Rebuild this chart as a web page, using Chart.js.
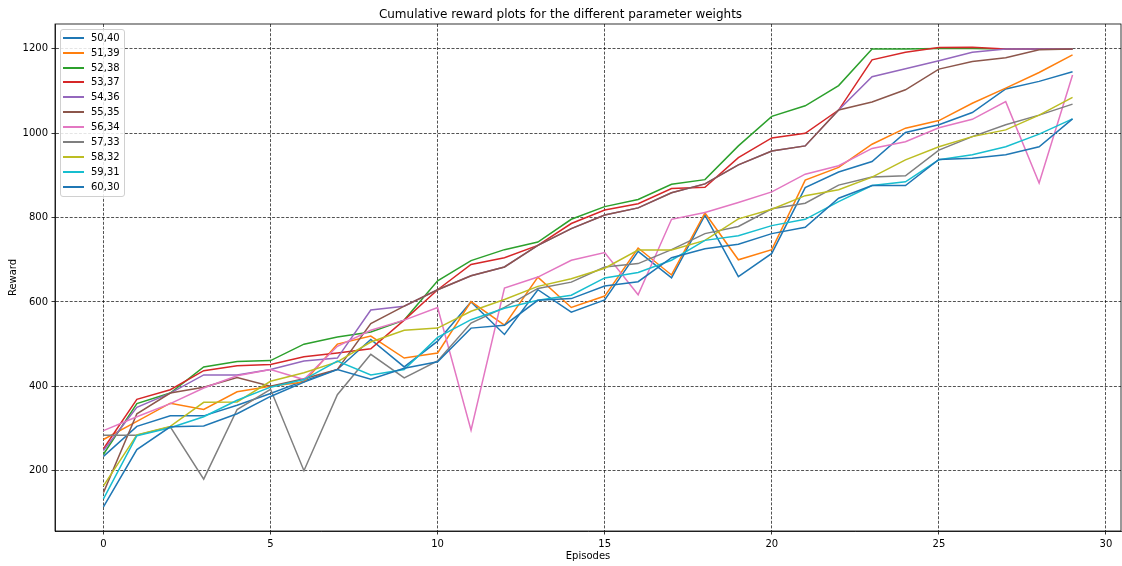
<!DOCTYPE html>
<html>
<head>
<meta charset="utf-8">
<script src="https://cdn.jsdelivr.net/npm/chart.js@4/dist/chart.umd.min.js"></script>
<style>
  html, body { margin: 0; padding: 0; background: #fff; }
  #wrap { position: relative; width: 1122px; height: 566px; }
  #legend {
    position: absolute; left: 60px; top: 29px; width: 63px; height: 166px;
    border: 1px solid #d0d0d0; border-radius: 3px; background: rgba(255,255,255,0.85);
    font-family: "DejaVu Sans", sans-serif; font-size: 10px; color: #000;
  }
  #legend .row { position: absolute; left: 0; height: 14px; width: 100%; }
  #legend .swatch { position: absolute; left: 2px; top: 6px; width: 21px; height: 2px; }
  #legend .lbl { position: absolute; left: 30px; top: 0; line-height: 14px; white-space: nowrap; }
</style>
</head>
<body>
<div id="wrap">
  <canvas id="c" width="1122" height="566"></canvas>
  <div id="legend"></div>
</div>
<script>
// Episode index along the x axis
const episodes = [0,1,2,3,4,5,6,7,8,9,10,11,12,13,14,15,16,17,18,19,20,21,22,23,24,25,26,27,28,29];

// Cumulative reward per episode for each parameter-weight pair
const w50_40 = [234,305,330,330,355,383,413,440,511,446,507,600,523,629,576,605,720,657,806,660,715,871,908,933,1002,1020,1049,1105,1123,1146];
const w51_39 = [274,317,360,345,387,400,410,500,519,467,479,601,545,659,587,614,728,664,811,700,724,889,919,974,1012,1030,1071,1107,1144,1186];
const w52_38 = [239,359,384,446,459,461,500,517,529,557,650,698,724,742,796,826,843,879,890,970,1040,1065,1113,1200,1200,1201,1201,1200,1200,1200];
const w53_37 = [252,369,392,437,449,452,470,479,489,557,629,689,705,734,786,818,833,869,872,942,989,1000,1055,1174,1192,1203,1204,1200,1200,1200];
const w54_36 = [248,350,384,427,427,440,460,467,581,590,629,662,683,734,774,806,823,859,880,925,958,970,1055,1134,1153,1172,1192,1200,1200,1200];
const w55_35 = [148,335,384,398,421,400,418,440,549,590,629,662,683,734,774,806,823,859,880,925,958,970,1055,1074,1103,1152,1170,1179,1198,1200];
const w56_34 = [295,328,359,396,425,440,416,495,533,557,587,296,633,659,699,717,617,796,812,836,861,903,923,964,980,1013,1033,1075,882,1138];
const w57_33 = [284,284,304,180,345,393,200,380,476,420,460,550,587,632,647,683,691,724,762,779,821,834,877,896,899,960,992,1020,1043,1069];
const w58_32 = [164,285,305,362,363,412,432,458,505,533,538,578,606,637,655,680,723,723,746,797,820,852,866,896,937,968,992,1008,1043,1085];
const w59_31 = [133,283,302,328,367,398,416,460,427,440,516,558,585,604,616,657,670,699,746,757,781,796,838,876,885,937,949,968,998,1034];
const w60_30 = [114,250,304,306,335,376,410,440,417,443,458,538,545,604,608,638,648,705,726,737,762,777,846,876,876,938,941,949,968,1034];

const seriesLabels = ["50,40","51,39","52,38","53,37","54,36","55,35","56,34","57,33","58,32","59,31","60,30"];
const seriesValues = [w50_40,w51_39,w52_38,w53_37,w54_36,w55_35,w56_34,w57_33,w58_32,w59_31,w60_30];
const seriesColors = ["#1f77b4","#ff7f0e","#2ca02c","#d62728","#9467bd","#8c564b","#e377c2","#7f7f7f","#bcbd22","#17becf","#1f77b4"];

const xTicks = [0,5,10,15,20,25,30];
const yTicks = [200,400,600,800,1000,1200];

const FONT = "'DejaVu Sans', sans-serif";

const datasets = seriesValues.map((vals, i) => ({
  label: seriesLabels[i],
  data: vals.map((v, k) => ({ x: episodes[k], y: v })),
  borderColor: seriesColors[i],
  backgroundColor: seriesColors[i],
  borderWidth: 1.5,
  pointRadius: 0,
  tension: 0,
  fill: false,
  // later series paint over earlier ones
  order: seriesValues.length - i
}));

// Outline the whole plotting box (top and right edges included)
const frame = {
  id: 'frame',
  afterDatasetsDraw(chart) {
    const { ctx, chartArea: a } = chart;
    ctx.save();
    ctx.strokeStyle = '#000';
    ctx.lineWidth = 0.8;
    ctx.setLineDash([]);
    ctx.strokeRect(a.left, a.top, a.right - a.left, a.bottom - a.top);
    ctx.restore();
  }
};

const axisCommon = {
  type: 'linear',
  border: { display: true, color: '#000', width: 0.8, dash: [3, 1.6] },
  grid: {
    display: true, drawOnChartArea: true, drawTicks: true,
    color: 'rgba(0,0,0,0.85)', lineWidth: 0.8,
    tickLength: 3.5, tickColor: '#000', tickWidth: 0.8, tickBorderDash: []
  },
  ticks: {
    color: '#000', padding: 3.5, font: { family: FONT, size: 10 },
    maxRotation: 0, autoSkip: false,
    callback: (v) => String(v)
  }
};

new Chart(document.getElementById('c'), {
  type: 'line',
  data: { datasets },
  plugins: [frame],
  options: {
    responsive: false,
    animation: false,
    devicePixelRatio: 1,
    layout: { padding: { left: 0, right: 1, top: 0, bottom: 0 } },
    plugins: {
      legend: { display: false },
      tooltip: { enabled: false },
      title: {
        display: true,
        text: 'Cumulative reward plots for the different parameter weights',
        color: '#000',
        font: { family: FONT, size: 12, weight: 'normal' },
        padding: { top: 7.5, bottom: 2.1 }
      }
    },
    scales: {
      x: Object.assign({}, axisCommon, {
        position: 'bottom',
        min: -1.45, max: 30.45,
        afterBuildTicks: (s) => { s.ticks = xTicks.map(v => ({ value: v })); },
        afterFit: (s) => { s.height = 35; },
        title: {
          display: true, text: 'Episodes', color: '#000',
          font: { family: FONT, size: 10 }, padding: { top: 0, bottom: 4 }
        }
      }),
      y: Object.assign({}, axisCommon, {
        position: 'left',
        min: 57, max: 1259,
        afterBuildTicks: (s) => { s.ticks = yTicks.map(v => ({ value: v })); },
        afterFit: (s) => { s.width = 55; },
        title: {
          display: true, text: 'Reward', color: '#000',
          font: { family: FONT, size: 10 }, padding: { top: 7, bottom: 0 }
        }
      })
    }
  }
});

// Legend box listing each weight pair with its line colour
const legendEl = document.getElementById('legend');
seriesLabels.forEach((lab, i) => {
  const row = document.createElement('div');
  row.className = 'row';
  row.style.top = (0.7 + i * 14.9) + 'px';
  const sw = document.createElement('span');
  sw.className = 'swatch';
  sw.style.background = seriesColors[i];
  const tx = document.createElement('span');
  tx.className = 'lbl';
  tx.textContent = lab;
  row.appendChild(sw);
  row.appendChild(tx);
  legendEl.appendChild(row);
});
</script>
</body>
</html>
